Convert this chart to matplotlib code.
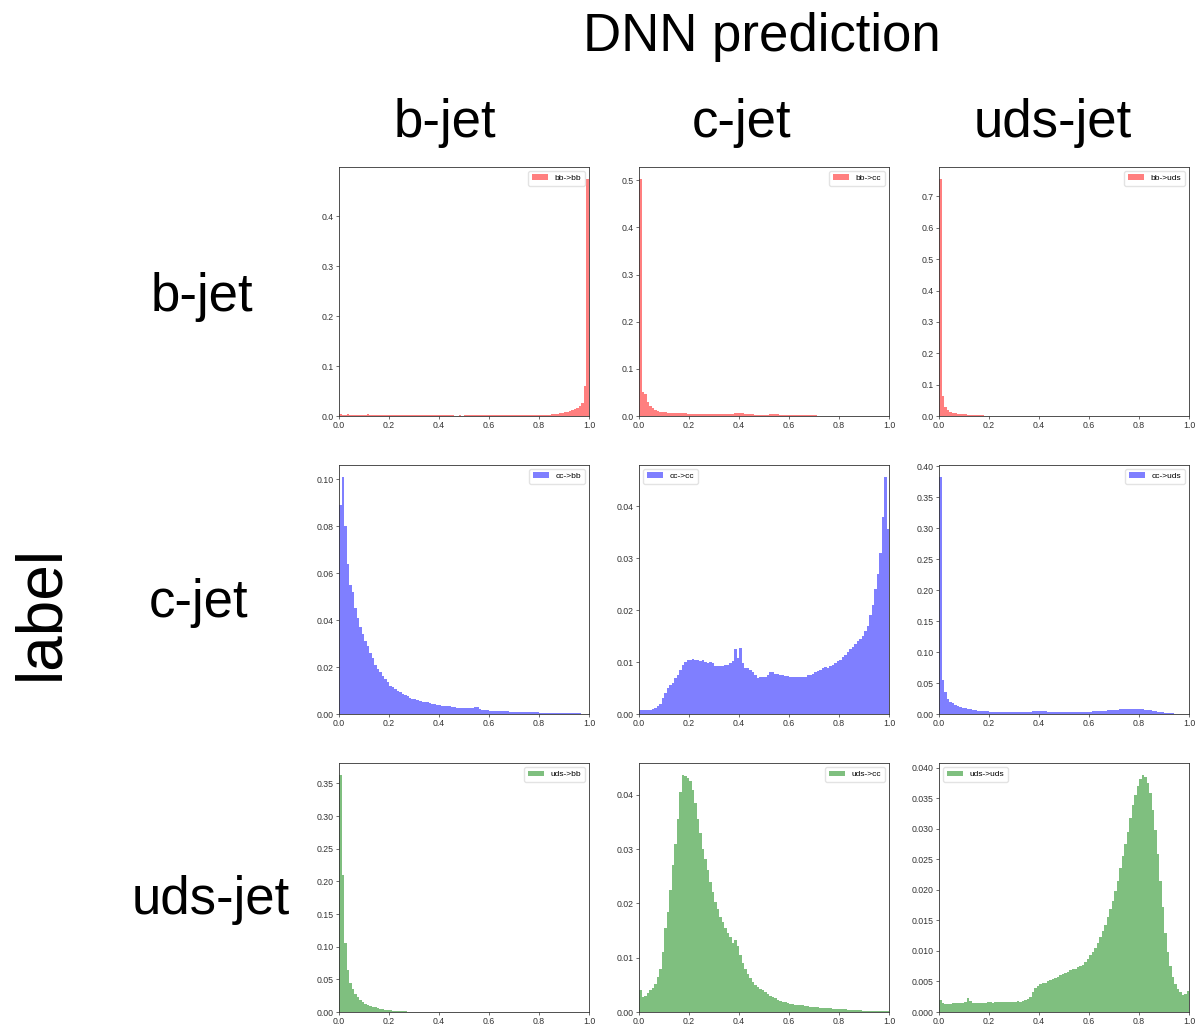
import numpy as np
import matplotlib
matplotlib.use("Agg")
import matplotlib.pyplot as plt

plt.rcParams['font.family'] = ['Liberation Sans', 'DejaVu Sans']

# Jet flavours (true label on rows, DNN prediction on columns)
flavours = ["b-jet", "c-jet", "uds-jet"]
short = ["bb", "cc", "uds"]

# Histogram binning of the DNN output score
bin_edges = np.linspace(0.0, 1.0, 101)

# Normalised bin contents, 100 bins each
bb_bb = [0.004, 0.003, 0.003, 0.0032, 0.003, 0.003, 0.0028, 0.003, 0.003, 0.0029,
         0.003, 0.0031, 0.003, 0.0028, 0.003, 0.0029, 0.0027, 0.0025, 0.002, 0.002,
         0.0015, 0.0016, 0.0015, 0.0014, 0.0015, 0.0016, 0.0015, 0.0015, 0.0014, 0.0015,
         0.0015, 0.0014, 0.0015, 0.0016, 0.0015, 0.0015, 0.0014, 0.0015, 0.0015, 0.0016,
         0.0015, 0.0015, 0.0014, 0.0015, 0.0015, 0.0013, 0.001, 0.001, 0.0011, 0.001,
         0.0012, 0.0012, 0.0013, 0.0012, 0.0012, 0.0011, 0.0012, 0.0012, 0.0013, 0.0012,
         0.0012, 0.0011, 0.0012, 0.0012, 0.0012, 0.0013, 0.0012, 0.0012, 0.0013, 0.0014,
         0.0015, 0.0015, 0.0016, 0.0015, 0.0018, 0.0018, 0.002, 0.002, 0.0021, 0.002,
         0.002, 0.0022, 0.0025, 0.003, 0.003, 0.0035, 0.004, 0.005, 0.006, 0.007,
         0.008, 0.009, 0.010, 0.012, 0.014, 0.017, 0.021, 0.027, 0.060, 0.475]

bb_cc = [0.503, 0.050, 0.047, 0.030, 0.022, 0.016, 0.012, 0.010, 0.009, 0.008,
         0.008, 0.007, 0.007, 0.007, 0.006, 0.006, 0.006, 0.0058, 0.0055, 0.0052,
         0.005, 0.005, 0.0048, 0.0046, 0.0045, 0.0045, 0.0042, 0.004, 0.004, 0.004,
         0.004, 0.0039, 0.004, 0.0041, 0.004, 0.0045, 0.005, 0.0052, 0.006, 0.0068,
         0.0066, 0.0058, 0.005, 0.0042, 0.004, 0.0034, 0.0031, 0.003, 0.003, 0.0029,
         0.003, 0.003, 0.0034, 0.0039, 0.004, 0.0033, 0.003, 0.0024, 0.0021, 0.002,
         0.002, 0.0019, 0.002, 0.0018, 0.0018, 0.0017, 0.0016, 0.0015, 0.0014, 0.0012,
         0.0011, 0.001, 0.001, 0.0009, 0.0009, 0.0009, 0.0008, 0.0008, 0.0008, 0.0008,
         0.0008, 0.0007, 0.0007, 0.0007, 0.0007, 0.0006, 0.0006, 0.0006, 0.0006, 0.0006,
         0.0005, 0.0005, 0.0005, 0.0004, 0.0004, 0.0003, 0.0003, 0.0002, 0.0002, 0.0001]

bb_uds = [0.756, 0.065, 0.030, 0.020, 0.013, 0.010, 0.008, 0.007, 0.006, 0.0055,
          0.005, 0.0045, 0.0042, 0.004, 0.0035, 0.003, 0.0022, 0.0016, 0.0012, 0.001,
          0.0009, 0.0008, 0.0008, 0.0007, 0.0007, 0.0006, 0.0006, 0.0006, 0.0005, 0.0005,
          0.0005, 0.0005, 0.0004, 0.0004, 0.0004, 0.0004, 0.0004, 0.0004, 0.0004, 0.0004,
          0.0004, 0.0004, 0.0003, 0.0003, 0.0003, 0.0003, 0.0003, 0.0003, 0.0003, 0.0003,
          0.0003, 0.0003, 0.0003, 0.0003, 0.0003, 0.0003, 0.0003, 0.0003, 0.0003, 0.0003,
          0.0003, 0.0003, 0.0003, 0.0003, 0.0003, 0.0003, 0.0003, 0.0003, 0.0003, 0.0003,
          0.0003, 0.0003, 0.0003, 0.0003, 0.0003, 0.0003, 0.0003, 0.0003, 0.0003, 0.0003,
          0.0003, 0.0003, 0.0002, 0.0002, 0.0002, 0.0002, 0.0002, 0.0002, 0.0002, 0.0002,
          0.0002, 0.0002, 0.0001, 0.0001, 0.0001, 0.0001, 0.0001, 0.0001, 0.0001, 0.0001]

cc_bb = [0.089, 0.101, 0.080, 0.064, 0.055, 0.052, 0.045, 0.041, 0.037, 0.034,
         0.031, 0.029, 0.026, 0.024, 0.021, 0.019, 0.018, 0.016, 0.015, 0.0135,
         0.012, 0.0113, 0.0105, 0.0098, 0.0092, 0.0086, 0.008, 0.0075, 0.007, 0.0066,
         0.0062, 0.0059, 0.0056, 0.0053, 0.0051, 0.0049, 0.0046, 0.0044, 0.0042, 0.004,
         0.0038, 0.0036, 0.0035, 0.0033, 0.0032, 0.003, 0.0029, 0.0027, 0.0026, 0.0025,
         0.0024, 0.0025, 0.0026, 0.0027, 0.0028, 0.0028, 0.0022, 0.0018, 0.0016, 0.0015,
         0.0014, 0.0014, 0.0013, 0.0013, 0.0012, 0.0012, 0.0011, 0.0011, 0.001, 0.001,
         0.001, 0.0009, 0.0009, 0.0009, 0.0008, 0.0008, 0.0008, 0.0007, 0.0007, 0.0007,
         0.0006, 0.0006, 0.0006, 0.0006, 0.0005, 0.0005, 0.0005, 0.0005, 0.0004, 0.0004,
         0.0004, 0.0004, 0.0003, 0.0003, 0.0003, 0.0003, 0.0003, 0.0002, 0.0002, 0.0002]

cc_cc = [0.0008, 0.0007, 0.0007, 0.0007, 0.0008, 0.001, 0.0012, 0.0015, 0.002, 0.003,
         0.004, 0.005, 0.0055, 0.006, 0.007, 0.0075, 0.0085, 0.0095, 0.010, 0.0105,
         0.0105, 0.0106, 0.0104, 0.0105, 0.0103, 0.0105, 0.0100, 0.0098, 0.0100, 0.0098,
         0.0093, 0.0092, 0.0093, 0.0092, 0.0094, 0.0095, 0.0098, 0.0102, 0.0125, 0.0108,
         0.0128, 0.0098, 0.0088, 0.0088, 0.0085, 0.0080, 0.0075, 0.0070, 0.0071, 0.0071,
         0.0072, 0.0076, 0.0080, 0.0080, 0.0078, 0.0077, 0.0076, 0.0075, 0.0074, 0.0073,
         0.0072, 0.0072, 0.0071, 0.0072, 0.0072, 0.0071, 0.0072, 0.0075, 0.0076, 0.0078,
         0.0080, 0.0082, 0.0085, 0.0088, 0.0090, 0.0089, 0.0092, 0.0095, 0.0098, 0.0102,
         0.0105, 0.0110, 0.0113, 0.0120, 0.0125, 0.0130, 0.0135, 0.0140, 0.0145, 0.0150,
         0.0160, 0.0170, 0.0190, 0.0210, 0.0240, 0.0270, 0.0310, 0.0380, 0.0457, 0.0357]

cc_uds = [0.383, 0.055, 0.035, 0.025, 0.020, 0.017, 0.015, 0.013, 0.011, 0.010,
          0.009, 0.0085, 0.008, 0.007, 0.006, 0.0052, 0.0048, 0.0045, 0.0043, 0.0042,
          0.004, 0.004, 0.0039, 0.0038, 0.0038, 0.0037, 0.0036, 0.0035, 0.0034, 0.0033,
          0.0032, 0.0032, 0.0031, 0.0031, 0.0032, 0.0034, 0.0037, 0.0041, 0.0045, 0.0048,
          0.005, 0.0048, 0.0044, 0.004, 0.0037, 0.0035, 0.0034, 0.0033, 0.0032, 0.0031,
          0.003, 0.003, 0.003, 0.0031, 0.0031, 0.0032, 0.0033, 0.0034, 0.0035, 0.0037,
          0.0039, 0.0041, 0.0043, 0.0045, 0.0048, 0.0051, 0.0054, 0.0058, 0.0062, 0.0065,
          0.0068, 0.0071, 0.0074, 0.0076, 0.0078, 0.0079, 0.008, 0.008, 0.0079, 0.0078,
          0.0077, 0.0075, 0.0071, 0.0066, 0.006, 0.0053, 0.0046, 0.004, 0.0034, 0.0028,
          0.0023, 0.0018, 0.0014, 0.0011, 0.0008, 0.0006, 0.0005, 0.0004, 0.0003, 0.0002]

uds_bb = [0.363, 0.210, 0.105, 0.065, 0.045, 0.035, 0.028, 0.023, 0.019, 0.016,
          0.013, 0.011, 0.009, 0.008, 0.007, 0.006, 0.005, 0.004, 0.0035, 0.003,
          0.0025, 0.002, 0.0016, 0.0013, 0.0011, 0.0009, 0.0008, 0.0007, 0.0006, 0.0005,
          0.0004, 0.0004, 0.0003, 0.0003, 0.0003, 0.0002, 0.0002, 0.0002, 0.0002, 0.0002,
          0.0001, 0.0001, 0.0001, 0.0001, 0.0001, 0.0001, 0.0001, 0.0001, 0.0001, 0.0001,
          0.0001, 0.0001, 0.0001, 0.0001, 0.0001, 0.0001, 0.0001, 0.0001, 0.0001, 0.0001,
          0.0001, 0.0001, 0.0001, 0.0001, 0.0001, 0.0001, 0.0001, 0.0001, 0.0001, 0.0001,
          0.0001, 0.0001, 0.0001, 0.0001, 0.0001, 0.0001, 0.0001, 0.0001, 0.0001, 0.0001,
          0.0001, 0.0001, 0.0001, 0.0001, 0.0001, 0.0001, 0.0001, 0.0001, 0.0001, 0.0001,
          0.0001, 0.0001, 0.0001, 0.0001, 0.0001, 0.0001, 0.0001, 0.0001, 0.0001, 0.0001]

uds_cc = [0.0040, 0.0028, 0.0030, 0.0035, 0.0040, 0.0045, 0.0052, 0.0065, 0.0080, 0.0110,
          0.0155, 0.0185, 0.0225, 0.0270, 0.0310, 0.0355, 0.0405, 0.0437, 0.0435, 0.0432,
          0.0425, 0.0410, 0.0385, 0.0355, 0.0330, 0.0300, 0.0282, 0.0262, 0.0240, 0.0222,
          0.0203, 0.0190, 0.0175, 0.0165, 0.0155, 0.0145, 0.0138, 0.0128, 0.0132, 0.0122,
          0.0105, 0.0090, 0.0080, 0.0070, 0.0063, 0.0055, 0.0050, 0.0046, 0.0043, 0.0040,
          0.0036, 0.0033, 0.0030, 0.0027, 0.0025, 0.0022, 0.0020, 0.0019, 0.0018, 0.0016,
          0.0015, 0.0014, 0.0013, 0.0013, 0.0012, 0.0012, 0.0011, 0.0011, 0.0010, 0.0010,
          0.0009, 0.0009, 0.0008, 0.0008, 0.0007, 0.0007, 0.0007, 0.0006, 0.0006, 0.0006,
          0.0005, 0.0005, 0.0005, 0.0004, 0.0004, 0.0004, 0.0003, 0.0003, 0.0003, 0.0002,
          0.0002, 0.0002, 0.0002, 0.0001, 0.0001, 0.0001, 0.0001, 0.0001, 0.0001, 0.0001]

uds_uds = [0.0020, 0.0014, 0.0013, 0.0013, 0.0013, 0.0014, 0.0015, 0.0015, 0.0014, 0.0015,
           0.0016, 0.0023, 0.0018, 0.0014, 0.0015, 0.0015, 0.0014, 0.0015, 0.0015, 0.0016,
           0.0016, 0.0015, 0.0016, 0.0016, 0.0017, 0.0016, 0.0017, 0.0017, 0.0016, 0.0017,
           0.0017, 0.0018, 0.0017, 0.0018, 0.0019, 0.0022, 0.0025, 0.0033, 0.0040, 0.0043,
           0.0045, 0.0047, 0.0048, 0.0050, 0.0052, 0.0054, 0.0055, 0.0058, 0.0060, 0.0062,
           0.0063, 0.0066, 0.0068, 0.0070, 0.0071, 0.0073, 0.0075, 0.0077, 0.0082, 0.0087,
           0.0093, 0.0098, 0.0105, 0.0113, 0.0122, 0.0132, 0.0142, 0.0155, 0.0168, 0.0182,
           0.0198, 0.0215, 0.0235, 0.0255, 0.0275, 0.0295, 0.0318, 0.0338, 0.0355, 0.0370,
           0.0382, 0.0388, 0.0385, 0.0375, 0.0358, 0.0330, 0.0298, 0.0258, 0.0215, 0.0172,
           0.0130, 0.0098, 0.0075, 0.0058, 0.0045, 0.0037, 0.0032, 0.0028, 0.0030, 0.0034]

grid_values = [[bb_bb, bb_cc, bb_uds],
               [cc_bb, cc_cc, cc_uds],
               [uds_bb, uds_cc, uds_uds]]
row_colors = ["r", "b", "g"]
legend_locs = [["upper right", "upper right", "upper right"],
               ["upper right", "upper left", "upper right"],
               ["upper right", "upper right", "upper left"]]

W, H = 1196, 1028
fig = plt.figure(figsize=(W / 100, H / 100), dpi=100)

col_left = [339, 639, 939]
row_top = [167, 465, 763]
ax_w, ax_h = 250, 249

centers = 0.5 * (bin_edges[:-1] + bin_edges[1:])

for i in range(3):
    for j in range(3):
        x0 = col_left[j] / W
        y0 = 1 - (row_top[i] + ax_h) / H
        ax = fig.add_axes([x0, y0, ax_w / W, ax_h / H])
        ax.hist(centers, bins=bin_edges, weights=grid_values[i][j],
                histtype="stepfilled", color=row_colors[i], alpha=0.5,
                linewidth=0, label=f"{short[i]}->{short[j]}")
        ax.set_xlim(0, 1)
        ax.set_xticks([0.0, 0.2, 0.4, 0.6, 0.8, 1.0])
        ax.tick_params(labelsize=6.3, length=2.2, width=0.5, pad=1.5,
                       colors="#333333")
        for sp in ax.spines.values():
            sp.set_linewidth(0.6)
            sp.set_color("#333333")
        ax.legend(loc=legend_locs[i][j], fontsize=6, frameon=True,
                  handlelength=2.0, borderpad=0.4, framealpha=0.8,
                  edgecolor="#dddddd", fancybox=True)

big = 38
fig.text(762 / W, 1 - 37 / H, "DNN prediction", fontsize=big,
         ha="center", va="center")
for x, name in zip([445, 742, 1053], flavours):
    fig.text(x / W, 1 - 123 / H, name, fontsize=big, ha="center", va="center")
for (x, y), name in zip([(202, 297), (199, 603), (211, 900)], flavours):
    fig.text(x / W, 1 - y / H, name, fontsize=big, ha="center", va="center")
fig.text(41 / W, 1 - 612 / H, "label", fontsize=46, rotation=90,
         ha="center", va="center")

fig.savefig("out.png", dpi=100)
